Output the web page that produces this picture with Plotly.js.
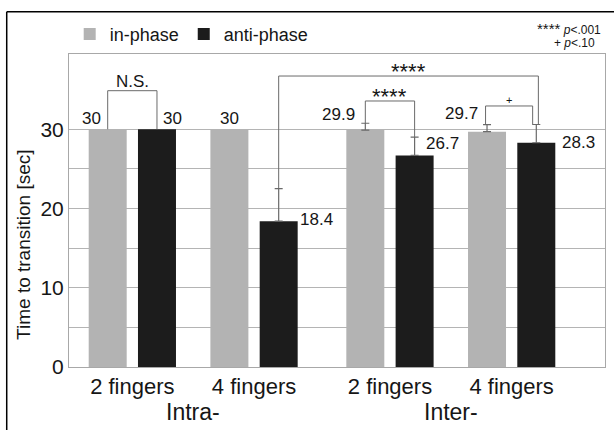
<!DOCTYPE html>
<html><head><meta charset="utf-8">
<script src="https://cdn.plot.ly/plotly-3.0.1.min.js"></script>
<style>html,body{margin:0;padding:0;background:#fff;} #chart{width:614px;height:430px;}</style>
</head><body><div id="chart"></div>
<script>
// ---- data ----
const fingerLabels = ["2 fingers", "4 fingers", "2 fingers", "4 fingers"];
const groupLabels = ["Intra-", "Inter-"];
const seriesNames = ["in-phase", "anti-phase"];
const inPhase = [30, 30, 29.9, 29.7];
const antiPhase = [30, 18.4, 26.7, 28.3];
const inPhaseSD = [null, null, 0.86, 0.88];
const antiPhaseSD = [null, 4.1, 2.3, 2.3];
const yTickVals = [0, 10, 20, 30];
const comparisons = [
  {label: "N.S.", a: [0, 0], b: [0, 1]},
  {label: "****", a: [1, 1], b: [3, 1]},
  {label: "****", a: [2, 0], b: [2, 1]},
  {label: "+",    a: [3, 0], b: [3, 1]}
];
const noteLines = ["**** <i>p</i>&lt;.001", "+ <i>p</i>&lt;.10"];

// ---- layout helpers ----
const slotPos = [0, 1, 2.117, 3.117];
const BARGAP = 0.19, GROUPGAP = 0.229;
const off = (1 - BARGAP) / 4;
const FONT = "Liberation Sans, Arial, sans-serif";
const TXT = "#161616";
const values = [inPhase, antiPhase];
const sds = [inPhaseSD, antiPhaseSD];
const barX = (i, s) => slotPos[i] + (s === 0 ? -off : off);
const topOf = (i, s) => values[s][i] + (sds[s][i] == null ? 0 : sds[s][i]);

const errArr = a => a.map(v => v == null ? NaN : v);
const errMinus = a => a.map(v => v == null ? NaN : 0);

const traces = [0, 1].map(s => ({
  type: "bar",
  name: seriesNames[s],
  x: slotPos,
  y: values[s],
  marker: {color: s === 0 ? "#b3b3b3" : "#1c1c1c", line: {width: 0}},
  error_y: {type: "data", symmetric: false, array: errArr(sds[s]), arrayminus: errMinus(sds[s]),
            color: "#6a6a6a", thickness: 1.2, width: 4},
  hoverinfo: "skip"
}));

// value labels (position tweaks in px)
const labelPlace = [
  [{xs: -16.4, ys: 11, a: "center"}, {xs: 0, ys: 11, a: "center"}, {xs: -8.6, ys: 16, a: "right"}, {xs: -7.2, ys: 17.7, a: "right"}],
  [{xs: 15.7, ys: 11, a: "center"}, {xs: 19.7, ys: 1.7, a: "left"}, {xs: 9.5, ys: 12, a: "left"}, {xs: 23.8, ys: 0.3, a: "left"}]
];
const annotations = [];
[0, 1].forEach(s => values[s].forEach((v, i) => {
  const p = labelPlace[s][i];
  annotations.push({x: barX(i, s), y: v, xref: "x", yref: "y", text: String(v), showarrow: false,
    xanchor: p.a, yanchor: "middle", xshift: p.xs, yshift: p.ys,
    font: {family: FONT, size: 17, color: TXT}});
}));

// brackets
const bracketTop = [34.87, 36.72, 33.57, 32.94];
const legShift = [[0, 0], [0, 0.017], [0, 0], [-0.012, -0.03]];
const labelStyle = [
  {size: 17, ys: -2},
  {size: 22, ys: -10},
  {size: 22, ys: -10},
  {size: 11, ys: -2}
];
const shapes = [];
comparisons.forEach((c, k) => {
  const xa = barX(c.a[0], c.a[1]) + legShift[k][0];
  const xb = barX(c.b[0], c.b[1]) + legShift[k][1];
  const ya = topOf(c.a[0], c.a[1]);
  const yb = topOf(c.b[0], c.b[1]);
  const t = bracketTop[k];
  shapes.push({type: "path", xref: "x", yref: "y",
    path: `M ${xa} ${ya} L ${xa} ${t} L ${xb} ${t} L ${xb} ${yb}`,
    line: {color: "#6a6a6a", width: 1}});
  annotations.push({x: (xa + xb) / 2, y: t, xref: "x", yref: "y", text: c.label, showarrow: false,
    xanchor: "center", yanchor: "bottom", yshift: labelStyle[k].ys,
    font: {family: FONT, size: labelStyle[k].size, color: TXT}});
});

// group labels
groupLabels.forEach((g, j) => {
  annotations.push({x: (slotPos[2 * j] + slotPos[2 * j + 1]) / 2, y: -0.1438, xref: "x", yref: "paper",
    text: g, showarrow: false, xanchor: "center", yanchor: "middle",
    font: {family: FONT, size: 23, color: TXT}});
});

// y title
annotations.push({x: -0.084, y: 0.39, xref: "paper", yref: "paper", text: "Time to transition [sec]",
  textangle: -90, showarrow: false, xanchor: "center", yanchor: "middle",
  font: {family: FONT, size: 19, color: TXT}});

// significance note
annotations.push({x: 0.9968, y: 1.0815, xref: "paper", yref: "paper", showarrow: false,
  text: noteLines[0].replace("****", '<span style="font-size:15px">****</span>'),
  xanchor: "right", yanchor: "middle", font: {family: FONT, size: 12, color: TXT}});
annotations.push({x: 0.9845, y: 1.035, xref: "paper", yref: "paper", showarrow: false,
  text: noteLines[1], xanchor: "right", yanchor: "middle", font: {family: FONT, size: 12, color: TXT}});

// outer frame
shapes.push({type: "line", xref: "paper", yref: "paper", x0: -0.1162, x1: -0.1162, y0: -0.25, y1: 1.1351,
  line: {color: "#000", width: 1.5}});
shapes.push({type: "line", xref: "paper", yref: "paper", x0: -0.1162, x1: 1.05, y0: 1.1351, y1: 1.1351,
  line: {color: "#000", width: 1.5}});

const layout = {
  width: 614, height: 430,
  margin: {l: 69, r: 9, t: 54, b: 63, pad: 0},
  paper_bgcolor: "#fff", plot_bgcolor: "#fff",
  barmode: "group", bargap: BARGAP, bargroupgap: GROUPGAP,
  showlegend: true,
  legend: {orientation: "h", x: 0.0013, y: 1.063, xanchor: "left", yanchor: "middle",
    font: {family: FONT, size: 18, color: TXT}, bgcolor: "rgba(0,0,0,0)"},
  xaxis: {range: [-0.5205, 3.884], tickmode: "array", tickvals: slotPos, ticktext: fingerLabels,
    showgrid: false, zeroline: false, showline: true, mirror: true, linecolor: "#a8a8a8", linewidth: 1,
    ticks: "", tickfont: {family: FONT, size: 22, color: TXT}, fixedrange: true},
  yaxis: {range: [0, 39.5], tickmode: "array", tickvals: yTickVals,
    showgrid: true, gridcolor: "#b4b4b4", gridwidth: 1, zeroline: false,
    minor: {tickmode: "array", tickvals: [5, 15, 25], showgrid: true, gridcolor: "#b4b4b4", gridwidth: 1},
    showline: true, mirror: true, linecolor: "#a8a8a8", linewidth: 1,
    ticks: "", tickfont: {family: FONT, size: 21, color: TXT}, fixedrange: true},
  font: {family: FONT, color: TXT},
  shapes: shapes,
  annotations: annotations
};

Plotly.newPlot("chart", traces, layout, {displayModeBar: false, staticPlot: true});
</script>
</body></html>
